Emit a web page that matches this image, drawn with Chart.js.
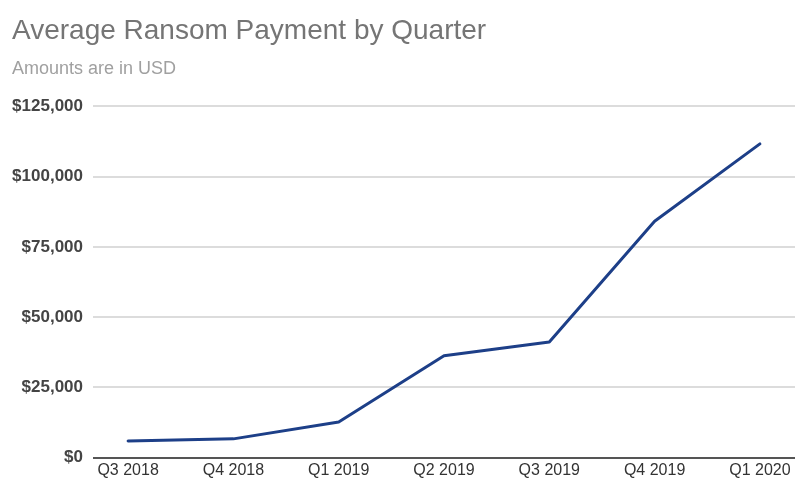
<!DOCTYPE html>
<html lang="en">
  <head>
    <meta charset="UTF-8" />
    <title>Average Ransom Payment by Quarter</title>
    <script src="https://cdn.jsdelivr.net/npm/chart.js"></script>
    <style>
      html,
      body {
        margin: 0;
        padding: 0;
        background: #fff;
      }
      #wrap {
        width: 798px;
        height: 484px;
      }
    </style>
  </head>
  <body>
    <div id="wrap"><canvas id="ransomChart"></canvas></div>

    <script>
      const quarters = [
        "Q3 2018",
        "Q4 2018",
        "Q1 2019",
        "Q2 2019",
        "Q3 2019",
        "Q4 2019",
        "Q1 2020",
      ];
      const payments = [5973, 6733, 12762, 36295, 41198, 84116, 111605];
      const yTicks = [0, 25000, 50000, 75000, 100000, 125000];

      const fontFamily = "'Liberation Sans', Arial, Helvetica, sans-serif";

      const points = quarters.map((q, i) => ({ x: i, y: payments[i] }));

      const ctx = document.getElementById("ransomChart").getContext("2d");
      const chart = new Chart(ctx, {
        type: "line",
        data: {
          datasets: [
            {
              label: "Average Ransom Payment",
              data: points,
              borderColor: "#1d3f88",
              borderWidth: 3,
              tension: 0,
              pointRadius: 0,
              borderJoinStyle: "round",
              borderCapStyle: "round",
              fill: false,
            },
          ],
        },
        options: {
          responsive: true,
          maintainAspectRatio: false,
          animation: false,
          layout: {
            padding: { left: 12, right: 3, top: 0, bottom: 1 },
          },
          plugins: {
            legend: { display: false },
            tooltip: { enabled: false },
            title: {
              display: true,
              text: "Average Ransom Payment by Quarter",
              align: "start",
              color: "#757575",
              font: { family: fontFamily, size: 28, weight: "normal" },
              padding: { top: 14, bottom: 0 },
            },
            subtitle: {
              display: true,
              text: "Amounts are in USD",
              align: "start",
              color: "#a0a0a0",
              font: { family: fontFamily, size: 18, weight: "normal" },
              padding: { top: 11, bottom: 26 },
            },
          },
          scales: {
            x: {
              type: "linear",
              min: -1 / 3,
              max: quarters.length - 1 + 1 / 3,
              afterBuildTicks: (scale) => {
                scale.ticks = quarters.map((q, i) => ({ value: i }));
              },
              ticks: {
                autoSkip: false,
                maxRotation: 0,
                padding: 3,
                color: "#333",
                font: { family: fontFamily, size: 16 },
                callback: (v) => quarters[v],
              },
              grid: { display: false, drawTicks: false },
              border: { display: false },
            },
            y: {
              min: 0,
              max: 125000,
              afterBuildTicks: (scale) => {
                scale.ticks = yTicks.map((v) => ({ value: v }));
              },
              afterFit: (scale) => {
                scale.width = 81;
              },
              ticks: {
                padding: 10,
                color: "#444",
                font: { family: fontFamily, size: 17, weight: "bold" },
                callback: (v) => "$" + v.toLocaleString("en-US"),
              },
              grid: {
                drawTicks: false,
                color: (c) => (c.tick && c.tick.value === 0 ? "#555" : "#dcdcdc"),
                lineWidth: 2,
              },
              border: { display: false },
            },
          },
        },
      });
    </script>
  </body>
</html>
